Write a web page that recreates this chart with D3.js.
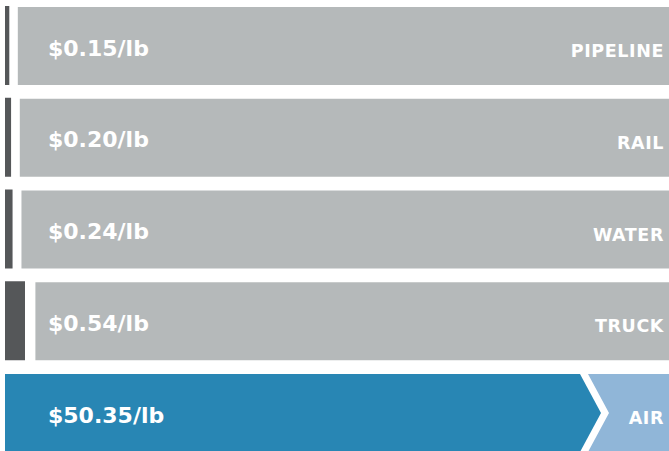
<!DOCTYPE html>
<html>
<head>
<meta charset="utf-8">
<script src="https://cdn.jsdelivr.net/npm/d3@7"></script>
<style>
  body { margin: 0; background: #fff; }
  svg text { font-family: "DejaVu Sans", sans-serif; font-weight: bold; fill: #fff; }
</style>
</head>
<body>
<div id="chart"></div>
<script>
// cost per pound by mode
let modes = ['PIPELINE', 'RAIL', 'WATER', 'TRUCK', 'AIR'];
let costs = [0.15, 0.20, 0.24, 0.54, 50.35];
let costLabels = ['$0.15/lb', '$0.20/lb', '$0.24/lb', '$0.54/lb', '$50.35/lb'];

let svgWidth = 669;
let svgHeight = 451;

let svg = d3.select('#chart').append('svg')
    .attr('width', svgWidth)
    .attr('height', svgHeight);

// rows
let y = d3.scaleBand()
    .domain(modes)
    .range([7, 452])
    .paddingInner(0.15)
    .paddingOuter(0);

// ground modes: small dark bar
let wGround = d3.scalePow().exponent(1.2)
    .domain([0, 0.54])
    .range([0, 20]);

// air: runs almost to the right edge
let xAir = d3.scaleLinear()
    .domain([0, 50.35])
    .range([5, 580]);

let x0 = 5;
let notch = 21;

let rows = modes.map((m, i) => ({ mode: m, cost: costs[i], label: costLabels[i] }));
let ground = rows.filter(d => d.mode != 'AIR');
let air = rows.filter(d => d.mode == 'AIR');

function barW(d) { return Math.max(3.5, wGround(d.cost)); }
function restX(d) { return x0 + barW(d) + 8 + barW(d) * 0.12; }

let g = svg.append('g');

// dark bars
g.selectAll('rect.cost')
    .data(ground)
    .enter()
    .append('rect')
    .attr('class', 'cost')
    .attr('x', x0)
    .attr('y', d => y(d.mode) - 1)
    .attr('width', barW)
    .attr('height', y.bandwidth() + 1)
    .attr('fill', '#555759');

// gray rest
g.selectAll('rect.rest')
    .data(ground)
    .enter()
    .append('rect')
    .attr('class', 'rest')
    .attr('x', restX)
    .attr('y', d => y(d.mode))
    .attr('width', d => svgWidth - restX(d))
    .attr('height', y.bandwidth())
    .attr('fill', '#b5b9ba');

// air: blue arrow + light blue remainder
air.forEach(d => {
    let top = y(d.mode);
    let bot = top + y.bandwidth();
    let mid = top + y.bandwidth() / 2;
    let xe = xAir(d.cost);
    g.append('path')
        .attr('d', d3.line()([[x0, top], [xe, top], [xe + notch, mid], [xe, bot], [x0, bot]]) + 'Z')
        .attr('fill', '#2886b4');
    let xs = xe + 8;
    g.append('path')
        .attr('d', d3.line()([[xs, top], [svgWidth, top], [svgWidth, bot], [xs, bot], [xs + notch, mid]]) + 'Z')
        .attr('fill', '#90b6d8');
});

// cost labels
g.selectAll('text.cost')
    .data(rows)
    .enter()
    .append('text')
    .attr('class', 'cost')
    .attr('x', 48)
    .attr('y', d => y(d.mode) + y.bandwidth() / 2 + 2)
    .attr('dy', '0.35em')
    .attr('font-size', '22px')
    .text(d => d.label);

// mode labels
g.selectAll('text.mode')
    .data(rows)
    .enter()
    .append('text')
    .attr('class', 'mode')
    .attr('x', 664)
    .attr('y', d => y(d.mode) + y.bandwidth() / 2 + 5)
    .attr('dy', '0.35em')
    .attr('text-anchor', 'end')
    .attr('font-size', '17.5px')
    .attr('letter-spacing', '0.6px')
    .text(d => d.mode);
</script>
</body>
</html>
